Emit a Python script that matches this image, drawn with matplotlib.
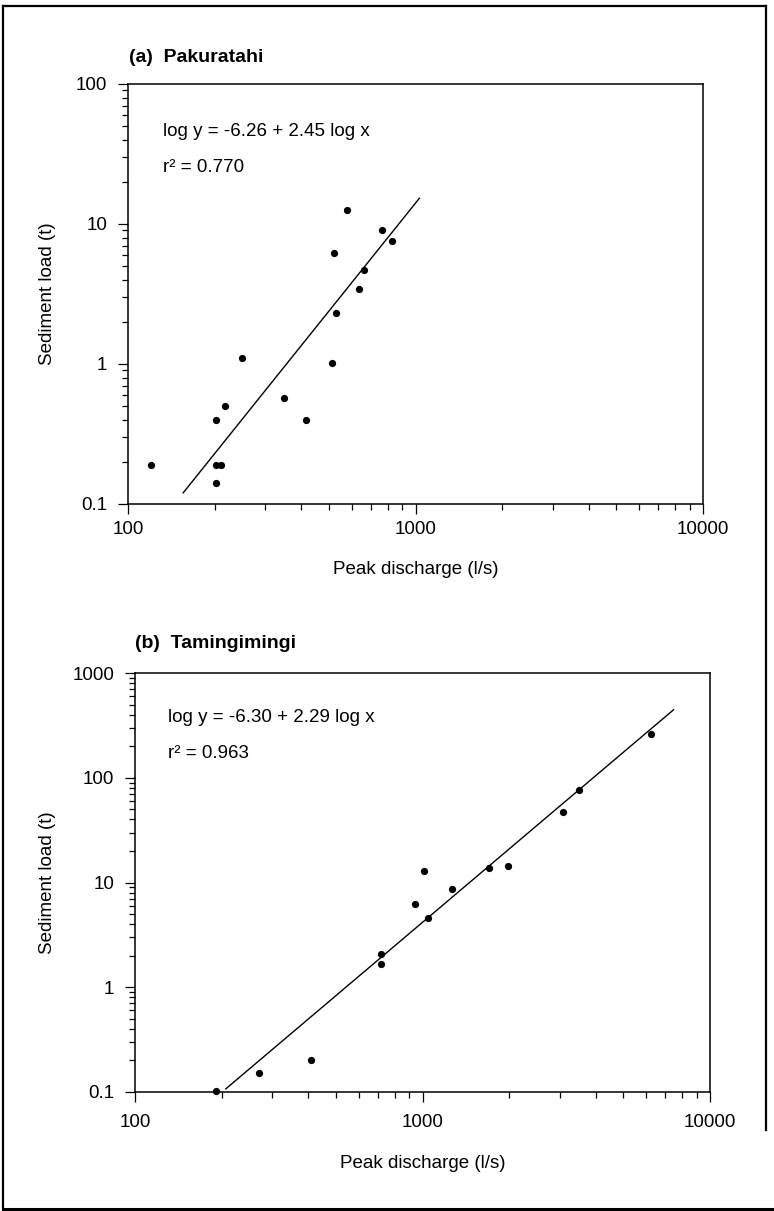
import matplotlib
matplotlib.use("Agg")
import matplotlib.pyplot as plt
from matplotlib.ticker import FixedLocator, FuncFormatter, LogLocator, NullFormatter
from matplotlib.lines import Line2D

# ---------------- data ----------------
# (a) Pakuratahi
pak_discharge = [120, 202, 217, 203, 210, 202, 249, 349, 415, 512, 527, 522, 576, 638, 664, 762, 828]
pak_sediment = [0.19, 0.40, 0.50, 0.19, 0.19, 0.141, 1.10, 0.567, 0.40, 1.01, 2.33, 6.17, 12.6, 3.45, 4.69, 9.0, 7.6]
pak_fit_x = [155, 1035]
pak_fit_y = [0.119, 15.4]
pak_equation = "log y = -6.26 + 2.45 log x"
pak_r2 = "r\u00b2 = 0.770"

# (b) Tamingimingi
tam_discharge = [191, 271, 411, 719, 715, 944, 1015, 1042, 1268, 1699, 1983, 3070, 3500, 6255]
tam_sediment = [0.102, 0.152, 0.201, 2.08, 1.65, 6.28, 12.8, 4.57, 8.58, 13.8, 14.5, 46.6, 76.5, 259]
tam_fit_x = [206, 7500]
tam_fit_y = [0.106, 450]
tam_equation = "log y = -6.30 + 2.29 log x"
tam_r2 = "r\u00b2 = 0.963"

x_ticks = [100, 1000, 10000]
pak_y_ticks = [0.1, 1, 10, 100]
tam_y_ticks = [0.1, 1, 10, 100, 1000]

titles = ["(a)  Pakuratahi", "(b)  Tamingimingi"]
xlabel = "Peak discharge (l/s)"
ylabel = "Sediment load (t)"

# ---------------- layout ----------------
plt.rcParams['font.family'] = ['Liberation Sans', 'DejaVu Sans']
W, H = 774, 1211
fig = plt.figure(figsize=(W / 100, H / 100), dpi=100)
fig.patch.set_facecolor('white')


def rect(l, t, r, b):
    return [l / W, 1 - b / H, (r - l) / W, (b - t) / H]


def fx(px):
    return px / W


def fy(py):
    return 1 - py / H


FS = 13.5

panels = [
    dict(box=(128, 84, 703, 504), x=pak_discharge, y=pak_sediment, fx_=pak_fit_x, fy_=pak_fit_y,
         eq=pak_equation, r2=pak_r2, yt=pak_y_ticks, ylim=(0.1, 100), title=titles[0],
         title_pos=(129, 58), eq_pos=(163, 132), r2_pos=(163, 168), xl_y=570, pad=5),
    dict(box=(135, 673, 710, 1092), x=tam_discharge, y=tam_sediment, fx_=tam_fit_x, fy_=tam_fit_y,
         eq=tam_equation, r2=tam_r2, yt=tam_y_ticks, ylim=(0.1, 1000), title=titles[1],
         title_pos=(135, 643), eq_pos=(168, 717), r2_pos=(168, 754), xl_y=1163, pad=9),
]

fmt = FuncFormatter(lambda v, p: "%g" % v)

for P in panels:
    l, t, r, b = P['box']
    ax = fig.add_axes(rect(l, t, r, b))
    ax.set_xscale('log')
    ax.set_yscale('log')
    ax.set_xlim(100, 10000)
    ax.set_ylim(*P['ylim'])
    ax.plot(P['fx_'], P['fy_'], color='black', lw=1.0, solid_capstyle='butt')
    ax.plot(P['x'], P['y'], 'o', color='black', markersize=4.2, clip_on=False, zorder=3)
    ax.xaxis.set_major_locator(FixedLocator(x_ticks))
    ax.yaxis.set_major_locator(FixedLocator(P['yt']))
    ax.xaxis.set_major_formatter(fmt)
    ax.yaxis.set_major_formatter(fmt)
    ax.xaxis.set_minor_locator(LogLocator(base=10, subs=range(2, 10), numticks=20))
    ax.yaxis.set_minor_locator(LogLocator(base=10, subs=range(2, 10), numticks=20))
    ax.xaxis.set_minor_formatter(NullFormatter())
    ax.yaxis.set_minor_formatter(NullFormatter())
    ax.tick_params(which='both', direction='out', width=0.9, colors='black',
                   top=False, right=False, labelsize=FS)
    ax.tick_params(which='major', length=7)
    ax.tick_params(which='minor', length=4)
    ax.tick_params(axis='y', which='major', pad=8)
    ax.tick_params(axis='x', which='major', pad=P['pad'])
    for s in ax.spines.values():
        s.set_linewidth(1.1)
        s.set_color('black')

    fig.text(fx(P['title_pos'][0]), fy(P['title_pos'][1]), P['title'], fontsize=14,
             fontweight='bold', ha='left', va='center')
    fig.text(fx(P['eq_pos'][0]), fy(P['eq_pos'][1]), P['eq'], fontsize=FS, ha='left', va='center')
    fig.text(fx(P['r2_pos'][0]), fy(P['r2_pos'][1]), P['r2'], fontsize=FS, ha='left', va='center')
    fig.text(fx((l + r) / 2), fy(P['xl_y']), xlabel, fontsize=FS, ha='center', va='center')
    fig.text(fx(48), fy((t + b) / 2), ylabel, fontsize=FS, ha='center', va='center', rotation=90)

# outer frame
fl, ft, fr, fb = 3, 6, 766, 1209
frame_lw = 1.6
fig.add_artist(Line2D([fx(fl), fx(fr)], [fy(ft), fy(ft)], color='black', lw=frame_lw))
fig.add_artist(Line2D([fx(fl), fx(fl)], [fy(ft), fy(fb)], color='black', lw=frame_lw))
fig.add_artist(Line2D([fx(fl), fx(W)], [fy(fb), fy(fb)], color='black', lw=frame_lw + 0.6))
fig.add_artist(Line2D([fx(fr), fx(fr)], [fy(ft), fy(1130)], color='black', lw=frame_lw))

fig.savefig('out.png', dpi=100, facecolor='white')
